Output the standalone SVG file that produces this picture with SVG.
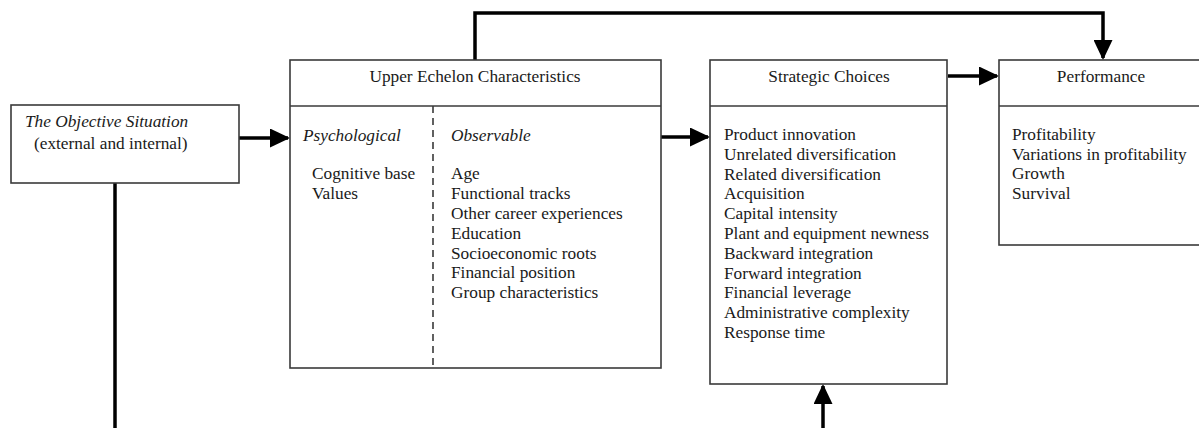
<svg xmlns="http://www.w3.org/2000/svg" width="1199" height="428" viewBox="0 0 1199 428">
<style>
.box{fill:#fff;stroke:#3a3a3a;stroke-width:1.6}
.div{stroke:#3a3a3a;stroke-width:1.6}
.dash{stroke:#3a3a3a;stroke-width:1.6;stroke-dasharray:7 5}
text{font-family:"Liberation Serif","Times New Roman",serif;font-size:17.3px;fill:#1a1a1a}
.it{font-style:italic}
.c{text-anchor:middle}
.conn{fill:none;stroke:#000;stroke-width:3.5}
</style>
<defs>
<marker id="ah" viewBox="0 0 20 19" refX="18" refY="9.5" markerWidth="20" markerHeight="19" markerUnits="userSpaceOnUse" orient="auto">
<path d="M0,0 L20,9.5 L0,19 Z" fill="#000"/>
</marker>
</defs>
<rect width="1199" height="428" fill="#fff"/>

<g id="connectors">
<path class="conn" d="M475,60 V13 H1103 V58" marker-end="url(#ah)"/>
<path class="conn" d="M239,138 H288" marker-end="url(#ah)"/>
<path class="conn" d="M661,137 H708" marker-end="url(#ah)"/>
<path class="conn" d="M948,76 H997" marker-end="url(#ah)"/>
<path class="conn" d="M115,183 V428"/>
<path class="conn" d="M823,428 V386" marker-end="url(#ah)"/>
</g>

<g id="objective">
<rect class="box" x="11" y="105" width="228" height="78"/>
<text class="it" x="25" y="127">The Objective Situation</text>
<text x="34" y="149">(external and internal)</text>
</g>

<g id="upper-echelon">
<rect class="box" x="290" y="60" width="371" height="308"/>
<line class="div" x1="290" y1="106" x2="661" y2="106"/>
<line class="dash" x1="433" y1="106" x2="433" y2="368"/>
<text class="c" x="475" y="82">Upper Echelon Characteristics</text>
<text class="it" x="303" y="141">Psychological</text>
<text class="it" x="451" y="141">Observable</text>
<text x="312" y="179">Cognitive base</text>
<text x="312" y="199">Values</text>
<text x="451" y="179">Age</text>
<text x="451" y="199">Functional tracks</text>
<text x="451" y="219">Other career experiences</text>
<text x="451" y="239">Education</text>
<text x="451" y="259">Socioeconomic roots</text>
<text x="451" y="278">Financial position</text>
<text x="451" y="298">Group characteristics</text>
</g>

<g id="strategic-choices">
<rect class="box" x="710" y="60" width="237" height="324"/>
<line class="div" x1="710" y1="106" x2="947" y2="106"/>
<text class="c" x="829" y="82">Strategic Choices</text>
<text x="724" y="140">Product innovation</text>
<text x="724" y="159.8">Unrelated diversification</text>
<text x="724" y="179.6">Related diversification</text>
<text x="724" y="199.4">Acquisition</text>
<text x="724" y="219.2">Capital intensity</text>
<text x="724" y="239">Plant and equipment newness</text>
<text x="724" y="258.8">Backward integration</text>
<text x="724" y="278.6">Forward integration</text>
<text x="724" y="298.4">Financial leverage</text>
<text x="724" y="318.2">Administrative complexity</text>
<text x="724" y="338">Response time</text>
</g>

<g id="performance">
<rect class="box" x="999" y="60" width="220" height="185"/>
<line class="div" x1="999" y1="106" x2="1219" y2="106"/>
<text class="c" x="1101" y="82">Performance</text>
<text x="1012" y="140">Profitability</text>
<text x="1012" y="160">Variations in profitability</text>
<text x="1012" y="179">Growth</text>
<text x="1012" y="199">Survival</text>
</g>
</svg>
